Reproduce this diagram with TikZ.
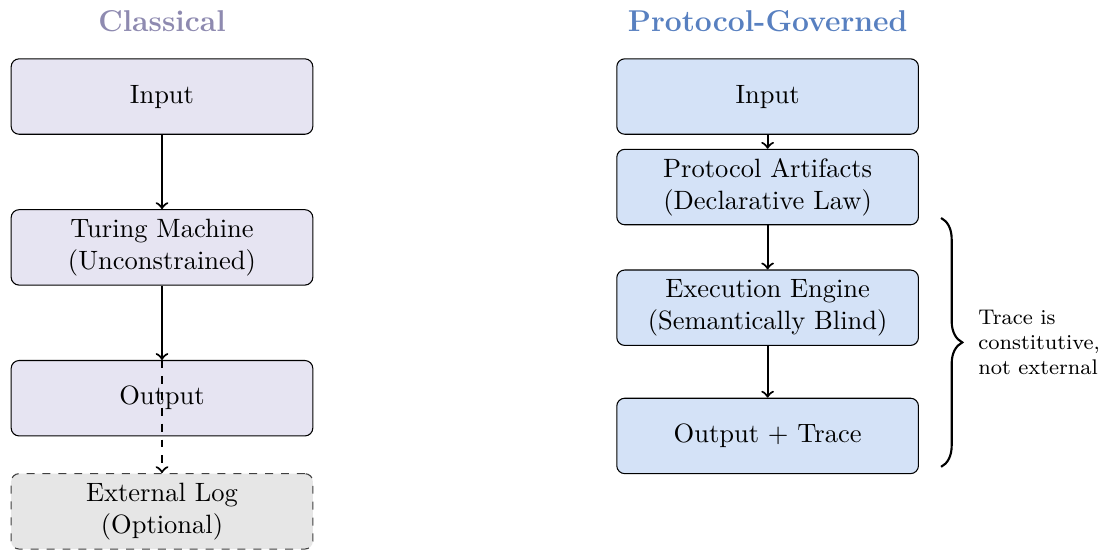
\documentclass[tikz,border=0pt]{standalone}
\usetikzlibrary{decorations.pathreplacing}
\definecolor{classfill}{RGB}{230,228,242}
\definecolor{protofill}{RGB}{212,226,247}
\definecolor{classtitle}{RGB}{142,138,176}
\definecolor{prototitle}{RGB}{88,128,192}
\definecolor{logfill}{RGB}{230,230,230}
\begin{document}
\begin{tikzpicture}[
  box/.style={draw, rounded corners=3pt, minimum width=4cm, minimum height=1cm, align=center},
  classbox/.style={box, fill=classfill},
  protobox/.style={box, fill=protofill},
  logbox/.style={box, fill=logfill, dashed, draw=black!75},
  flow/.style={->, thick},
  title/.style={font=\fontsize{11.35}{14}\selectfont\bfseries},
]
\useasboundingbox (-2.148,-6.015) rectangle (12.49,1.28);

% Classical column
\node[title, text=classtitle] (ctitle) at (0,1.0) {Classical};
\node[classbox] (cin)  at (0,0)    {Input};
\node[classbox] (ctm)  at (0,-2)   {Turing Machine\\(Unconstrained)};
\node[classbox] (cout) at (0,-4)   {Output};
\node[logbox]   (clog) at (0,-5.5) {External Log\\(Optional)};

\draw[flow] (cin) -- (ctm);
\draw[flow] (ctm) -- (cout);
\draw[flow, dashed] (cout.north) -- (clog.north);

% Protocol-governed column
\node[title, text=prototitle] (ptitle) at (8.03,1.0) {Protocol-Governed};
\node[protobox] (pin)  at (8.03,0)    {Input};
\node[protobox] (part) at (8.03,-1.2) {Protocol Artifacts\\(Declarative Law)};
\node[protobox] (peng) at (8.03,-2.8) {Execution Engine\\(Semantically Blind)};
\node[protobox] (pout) at (8.03,-4.5) {Output + Trace};

\draw[flow] (pin) -- (part);
\draw[flow] (part) -- (peng);
\draw[flow] (peng) -- (pout);

% Brace over the execution path
\coordinate (btop) at (10.33,-1.61);
\coordinate (bbot) at (10.33,-4.91);
\draw[thick, decorate, decoration={brace, amplitude=8pt}] (btop) -- (bbot);
\node[anchor=west, align=left, font=\footnotesize] (bnote) at (10.70,-3.26)
  {Trace is\\constitutive,\\not external};
\end{tikzpicture}
\end{document}
